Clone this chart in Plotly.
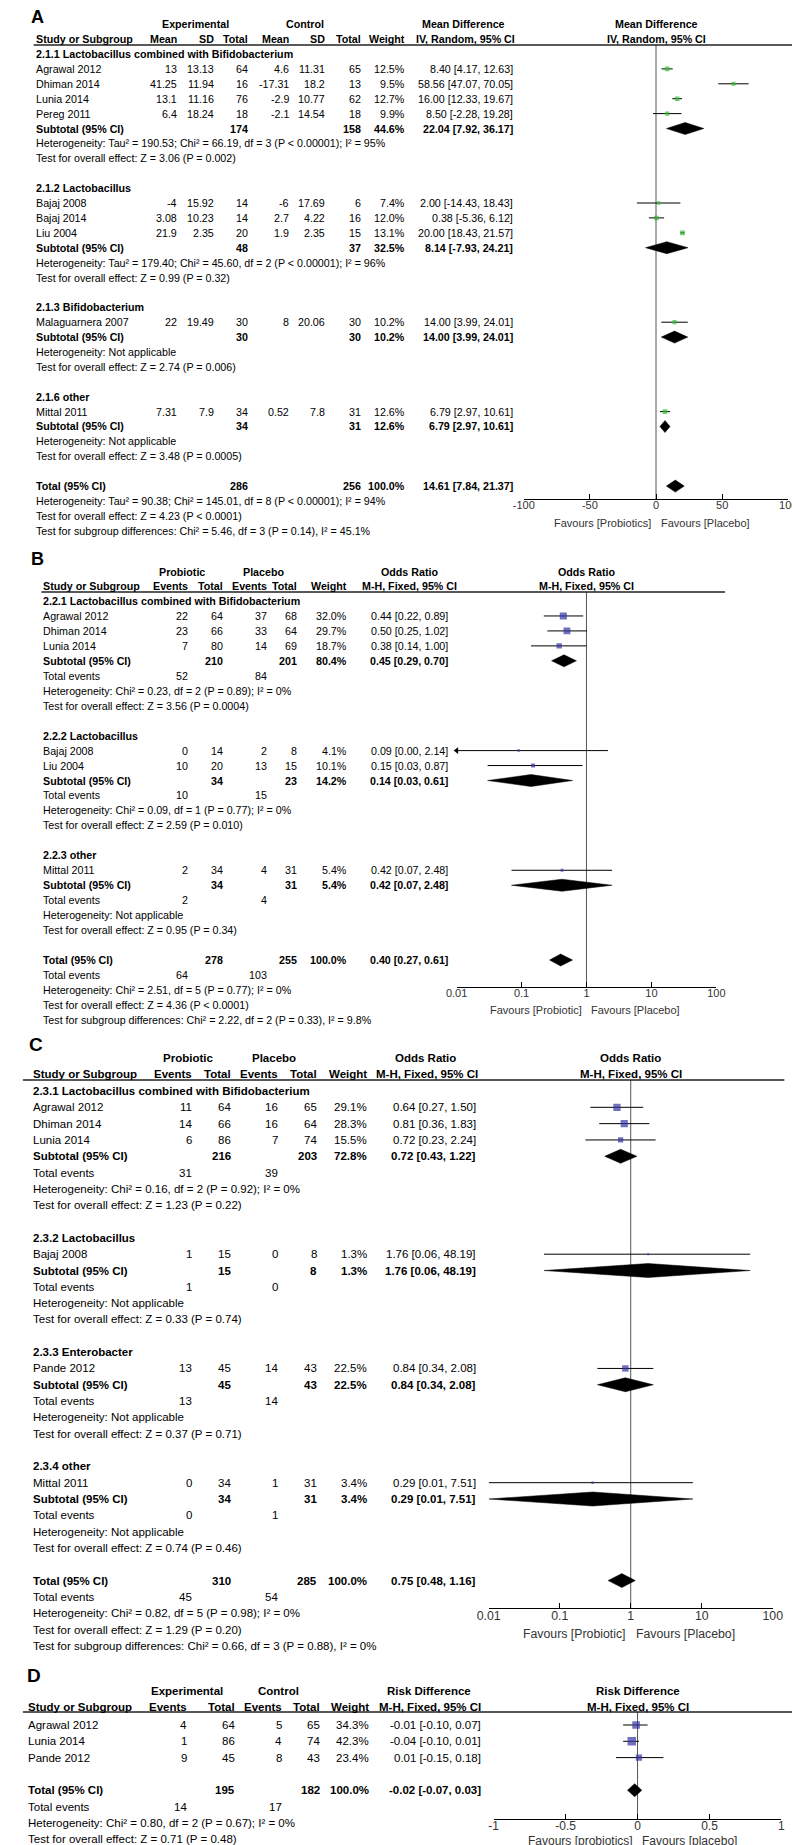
import math
import plotly.graph_objects as go

W, H = 800, 1845
FONT = "Liberation Sans, Arial, Helvetica, sans-serif"
GREEN = "#33bb33"
BLUE = "#3535a5"

# ---------------- A: mean difference (IV, random) ----------------
a_groups = ["2.1.1 Lactobacillus combined with Bifidobacterium", "2.1.2 Lactobacillus",
            "2.1.3 Bifidobacterium", "2.1.6 other"]
a_study = ["Agrawal 2012", "Dhiman 2014", "Lunia 2014", "Pereg 2011", "Bajaj 2008",
           "Bajaj 2014", "Liu 2004", "Malaguarnera 2007", "Mittal 2011"]
a_group_idx = [0, 0, 0, 0, 1, 1, 1, 2, 3]
a_exp_mean = [13, 41.25, 13.1, 6.4, -4, 3.08, 21.9, 22, 7.31]
a_exp_sd = [13.13, 11.94, 11.16, 18.24, 15.92, 10.23, 2.35, 19.49, 7.9]
a_exp_n = [64, 16, 76, 18, 14, 14, 20, 30, 34]
a_ctl_mean = [4.6, -17.31, -2.9, -2.1, -6, 2.7, 1.9, 8, 0.52]
a_ctl_sd = [11.31, 18.2, 10.77, 14.54, 17.69, 4.22, 2.35, 20.06, 7.8]
a_ctl_n = [65, 13, 62, 18, 6, 16, 15, 30, 31]
a_weight = [12.5, 9.5, 12.7, 9.9, 7.4, 12.0, 13.1, 10.2, 12.6]
a_md = [8.40, 58.56, 16.00, 8.50, 2.00, 0.38, 20.00, 14.00, 6.79]
a_lo = [4.17, 47.07, 12.33, -2.28, -14.43, -5.36, 18.43, 3.99, 2.97]
a_hi = [12.63, 70.05, 19.67, 19.28, 18.43, 6.12, 21.57, 24.01, 10.61]
a_sub_exp_n = [174, 48, 30, 34]
a_sub_ctl_n = [158, 37, 30, 31]
a_sub_weight = [44.6, 32.5, 10.2, 12.6]
a_sub_md = [22.04, 8.14, 14.00, 6.79]
a_sub_lo = [7.92, -7.93, 3.99, 2.97]
a_sub_hi = [36.17, 24.21, 24.01, 10.61]
a_sub_het = ["Heterogeneity: Tau² = 190.53; Chi² = 66.19, df = 3 (P < 0.00001); I² = 95%",
             "Heterogeneity: Tau² = 179.40; Chi² = 45.60, df = 2 (P < 0.00001); I² = 96%",
             "Heterogeneity: Not applicable", "Heterogeneity: Not applicable"]
a_sub_z = ["Z = 3.06 (P = 0.002)", "Z = 0.99 (P = 0.32)", "Z = 2.74 (P = 0.006)", "Z = 3.48 (P = 0.0005)"]
a_tot_n = [286, 256]
a_tot_md, a_tot_lo, a_tot_hi = 14.61, 7.84, 21.37
a_tot_notes = ["Heterogeneity: Tau² = 90.38; Chi² = 145.01, df = 8 (P < 0.00001); I² = 94%",
               "Test for overall effect: Z = 4.23 (P < 0.0001)",
               "Test for subgroup differences: Chi² = 5.46, df = 3 (P = 0.14), I² = 45.1%"]
a_ticks = [-100, -50, 0, 50, 100]

# ---------------- B: odds ratio ----------------
b_groups = ["2.2.1 Lactobacillus combined with Bifidobacterium", "2.2.2 Lactobacillus", "2.2.3 other"]
b_study = ["Agrawal 2012", "Dhiman 2014", "Lunia 2014", "Bajaj 2008", "Liu 2004", "Mittal 2011"]
b_group_idx = [0, 0, 0, 1, 1, 2]
b_exp_ev = [22, 23, 7, 0, 10, 2]
b_exp_n = [64, 66, 80, 14, 20, 34]
b_ctl_ev = [37, 33, 14, 2, 13, 4]
b_ctl_n = [68, 64, 69, 8, 15, 31]
b_weight = [32.0, 29.7, 18.7, 4.1, 10.1, 5.4]
b_or = [0.44, 0.50, 0.38, 0.09, 0.15, 0.42]
b_lo = [0.22, 0.25, 0.14, 0.00, 0.03, 0.07]
b_hi = [0.89, 1.02, 1.00, 2.14, 0.87, 2.48]
b_sub_exp_n = [210, 34, 34]
b_sub_ctl_n = [201, 23, 31]
b_sub_weight = [80.4, 14.2, 5.4]
b_sub_or = [0.45, 0.14, 0.42]
b_sub_lo = [0.29, 0.03, 0.07]
b_sub_hi = [0.70, 0.61, 2.48]
b_sub_exp_ev = [52, 10, 2]
b_sub_ctl_ev = [84, 15, 4]
b_sub_het = ["Heterogeneity: Chi² = 0.23, df = 2 (P = 0.89); I² = 0%",
             "Heterogeneity: Chi² = 0.09, df = 1 (P = 0.77); I² = 0%",
             "Heterogeneity: Not applicable"]
b_sub_z = ["Z = 3.56 (P = 0.0004)", "Z = 2.59 (P = 0.010)", "Z = 0.95 (P = 0.34)"]
b_tot_n = [278, 255]
b_tot_ev = [64, 103]
b_tot_or, b_tot_lo, b_tot_hi = 0.40, 0.27, 0.61
b_tot_notes = ["Heterogeneity: Chi² = 2.51, df = 5 (P = 0.77); I² = 0%",
               "Test for overall effect: Z = 4.36 (P < 0.0001)",
               "Test for subgroup differences: Chi² = 2.22, df = 2 (P = 0.33), I² = 9.8%"]

# ---------------- C: odds ratio ----------------
c_groups = ["2.3.1 Lactobacillus combined with Bifidobacterium", "2.3.2 Lactobacillus",
            "2.3.3 Enterobacter", "2.3.4 other"]
c_study = ["Agrawal 2012", "Dhiman 2014", "Lunia 2014", "Bajaj 2008", "Pande 2012", "Mittal 2011"]
c_group_idx = [0, 0, 0, 1, 2, 3]
c_exp_ev = [11, 14, 6, 1, 13, 0]
c_exp_n = [64, 66, 86, 15, 45, 34]
c_ctl_ev = [16, 16, 7, 0, 14, 1]
c_ctl_n = [65, 64, 74, 8, 43, 31]
c_weight = [29.1, 28.3, 15.5, 1.3, 22.5, 3.4]
c_or = [0.64, 0.81, 0.72, 1.76, 0.84, 0.29]
c_lo = [0.27, 0.36, 0.23, 0.06, 0.34, 0.01]
c_hi = [1.50, 1.83, 2.24, 48.19, 2.08, 7.51]
c_sub_exp_n = [216, 15, 45, 34]
c_sub_ctl_n = [203, 8, 43, 31]
c_sub_weight = [72.8, 1.3, 22.5, 3.4]
c_sub_or = [0.72, 1.76, 0.84, 0.29]
c_sub_lo = [0.43, 0.06, 0.34, 0.01]
c_sub_hi = [1.22, 48.19, 2.08, 7.51]
c_sub_exp_ev = [31, 1, 13, 0]
c_sub_ctl_ev = [39, 0, 14, 1]
c_sub_het = ["Heterogeneity: Chi² = 0.16, df = 2 (P = 0.92); I² = 0%",
             "Heterogeneity: Not applicable", "Heterogeneity: Not applicable",
             "Heterogeneity: Not applicable"]
c_sub_z = ["Z = 1.23 (P = 0.22)", "Z = 0.33 (P = 0.74)", "Z = 0.37 (P = 0.71)", "Z = 0.74 (P = 0.46)"]
c_tot_n = [310, 285]
c_tot_ev = [45, 54]
c_tot_or, c_tot_lo, c_tot_hi = 0.75, 0.48, 1.16
c_tot_notes = ["Heterogeneity: Chi² = 0.82, df = 5 (P = 0.98); I² = 0%",
               "Test for overall effect: Z = 1.29 (P = 0.20)",
               "Test for subgroup differences: Chi² = 0.66, df = 3 (P = 0.88), I² = 0%"]
or_ticks = [0.01, 0.1, 1, 10, 100]

# ---------------- D: risk difference ----------------
d_study = ["Agrawal 2012", "Lunia 2014", "Pande 2012"]
d_exp_ev = [4, 1, 9]
d_exp_n = [64, 86, 45]
d_ctl_ev = [5, 4, 8]
d_ctl_n = [65, 74, 43]
d_weight = [34.3, 42.3, 23.4]
d_rd = [-0.01, -0.04, 0.01]
d_lo = [-0.10, -0.10, -0.15]
d_hi = [0.07, 0.01, 0.18]
d_tot_n = [195, 182]
d_tot_ev = [14, 17]
d_tot_rd, d_tot_lo, d_tot_hi = -0.02, -0.07, 0.03
d_tot_notes = ["Heterogeneity: Chi² = 0.80, df = 2 (P = 0.67); I² = 0%",
               "Test for overall effect: Z = 0.71 (P = 0.48)"]
d_ticks = [-1, -0.5, 0, 0.5, 1]


def pct(w):
    return f"{w:.1f}%"


def ci_text(e, l, h):
    return f"{e:.2f} [{l:.2f}, {h:.2f}]"


annotations = []
shapes = []
traces = []
layout_axes = {}


def add_text(x, y, s, size, anchor="left", bold=False, color="black"):
    if bold:
        s = "<b>" + s + "</b>"
    annotations.append(dict(
        x=x / W, y=1 - y / H, xref="paper", yref="paper", text=s, showarrow=False,
        xanchor=anchor, yanchor="middle", borderpad=0,
        font=dict(family=FONT, size=size, color=color)))


def binary_rows(groups, study, gidx, ev1, n1, ev2, n2, wt, est, lo, hi,
                s_n1, s_n2, s_wt, s_est, s_lo, s_hi, s_ev1, s_ev2, s_het, s_z,
                t_n, t_ev, t_est, t_lo, t_hi, t_notes):
    rows = []
    for g, gname in enumerate(groups):
        rows.append((gname, True, [], False, None, None))
        for i in [k for k, gg in enumerate(gidx) if gg == g]:
            vals = [str(ev1[i]), str(n1[i]), str(ev2[i]), str(n2[i]), pct(wt[i])]
            rows.append((study[i], False, vals, False, ci_text(est[i], lo[i], hi[i]),
                         ("sq", est[i], lo[i], hi[i], wt[i])))
        rows.append(("Subtotal (95% CI)", True, [None, str(s_n1[g]), None, str(s_n2[g]), pct(s_wt[g])],
                     True, ci_text(s_est[g], s_lo[g], s_hi[g]), ("dia", s_est[g], s_lo[g], s_hi[g])))
        rows.append(("Total events", False, [str(s_ev1[g]), None, str(s_ev2[g])], False, None, None))
        rows.append((s_het[g], False, [], False, None, None))
        rows.append(("Test for overall effect: " + s_z[g], False, [], False, None, None))
        rows.append(None)
    rows.append(("Total (95% CI)", True, [None, str(t_n[0]), None, str(t_n[1]), "100.0%"],
                 True, ci_text(t_est, t_lo, t_hi), ("dia", t_est, t_lo, t_hi)))
    rows.append(("Total events", False, [str(t_ev[0]), None, str(t_ev[1])], False, None, None))
    for note in t_notes:
        rows.append((note, False, [], False, None, None))
    return rows


def draw_panel(p, rows):
    ax = p["ax"]
    fs = p["fs"]
    row0, step = p["row0"], p["step"]
    d0, d1 = p["xdom"]
    r0, r1 = p["xrange"]
    is_log = p["log"]
    xmin = 10 ** r0 if is_log else r0
    xmax = 10 ** r1 if is_log else r1
    zero_px = d0 + (0 - r0) / (r1 - r0) * (d1 - d0)

    # panel letter and headers
    add_text(p["letter_xy"][0], p["letter_xy"][1], p["letter"], p["letter_fs"], "left", True)
    for x, s, anc in p["head1"]:
        add_text(x, p["h1"], s, fs, anc, True)
    add_text(p["label_x"], p["h2"], "Study or Subgroup", fs, "left", True)
    for x, s in zip(p["cols"], p["head2"]):
        add_text(x, p["h2"], s, fs, "right", True)
    add_text(p["ci_head_x"], p["h2"], p["method"], fs, "center", True)
    add_text(zero_px, p["h2"], p["method"], fs, "center", True)
    add_text(zero_px, p["h1"], p["measure"], fs, "center", True)
    shapes.append(dict(type="line", xref="paper", yref="paper", x0=p["line_x"][0] / W, x1=p["line_x"][1] / W,
                       y0=1 - p["top"] / H, y1=1 - p["top"] / H, line=dict(color="#222222", width=1.5)))

    seg_x, seg_y, sq_x, sq_y, sq_s = [], [], [], [], []
    dia_x, dia_y, arr_x, arr_y = [], [], [], []
    hh = p["dia_h"] / step
    for r, row in enumerate(rows):
        if row is None:
            continue
        label, lbold, vals, vbold, ci, mark = row
        y = row0 + step * r
        add_text(p["label_x"], y, label, fs, "left", lbold)
        for x, v in zip(p["cols"], vals):
            if v is not None:
                add_text(x, y, v, fs, "right", vbold)
        if ci:
            add_text(p["ci_x"], y, ci, fs, "right", vbold)
        if mark is None:
            continue
        if mark[0] == "sq":
            _, e, lo, hi, w = mark
            lo_c = max(lo, xmin)
            hi_c = min(hi, xmax)
            seg_x += [lo_c, hi_c, None]
            seg_y += [r, r, None]
            if lo < xmin:
                arr_x.append(xmin)
                arr_y.append(r)
            sq_x.append(e)
            sq_y.append(r)
            sq_s.append(max(2.0, p["k"] * math.sqrt(w)))
        else:
            _, e, lo, hi = mark
            dia_x += [lo, e, hi, e, lo, None]
            dia_y += [r, r - hh, r, r + hh, r, None]

    xa, ya = "x" + ax, "y" + ax
    r_bot = (p["axis"] - row0) / step
    r_top = (p["top"] - row0) / step
    zx = 1 if is_log else 0
    traces.append(go.Scatter(x=[zx, zx], y=[r_top, r_bot], mode="lines", xaxis=xa, yaxis=ya,
                             line=dict(color="#555555", width=1), hoverinfo="skip", showlegend=False))
    traces.append(go.Scatter(x=seg_x, y=seg_y, mode="lines", xaxis=xa, yaxis=ya,
                             line=dict(color="black", width=1), hoverinfo="skip", showlegend=False))
    traces.append(go.Scatter(x=sq_x, y=sq_y, mode="markers", xaxis=xa, yaxis=ya,
                             marker=dict(symbol="square", size=sq_s, color=p["color"], line=dict(width=0)),
                             showlegend=False))
    if arr_x:
        traces.append(go.Scatter(x=arr_x, y=arr_y, mode="markers", xaxis=xa, yaxis=ya, cliponaxis=False,
                                 marker=dict(symbol="triangle-left", size=6, color="black"),
                                 showlegend=False, hoverinfo="skip"))
    traces.append(go.Scatter(x=dia_x, y=dia_y, mode="lines", fill="toself", fillcolor="black", xaxis=xa, yaxis=ya,
                             line=dict(color="black", width=0.5), hoverinfo="skip", showlegend=False))

    key = ax if ax else ""
    layout_axes["xaxis" + key] = dict(
        domain=[d0 / W, d1 / W], range=[r0, r1], type="log" if is_log else "linear", anchor=ya,
        showline=True, linecolor="black", linewidth=1, ticks="inside", ticklen=5, tickcolor="black",
        tickvals=p["ticks"], ticktext=[str(t) for t in p["ticks"]], showgrid=False, zeroline=False,
        ticklabelstandoff=-4,
        tickfont=dict(family=FONT, size=p["tick_fs"], color="#333333"), fixedrange=True)
    layout_axes["yaxis" + key] = dict(
        domain=[1 - p["axis"] / H, 1 - p["top"] / H], range=[r_bot, r_top], visible=False,
        anchor=xa, fixedrange=True)
    add_text(zero_px - 4, p["fav_y"], p["fav"][0], p["tick_fs"], "right", False, "#333333")
    add_text(zero_px + 4, p["fav_y"], p["fav"][1], p["tick_fs"], "left", False, "#333333")


# ---- panel A rows ----
a_rows = []
for g, gname in enumerate(a_groups):
    a_rows.append((gname, True, [], False, None, None))
    for i in [k for k, gg in enumerate(a_group_idx) if gg == g]:
        vals = [str(a_exp_mean[i]), str(a_exp_sd[i]), str(a_exp_n[i]), str(a_ctl_mean[i]),
                str(a_ctl_sd[i]), str(a_ctl_n[i]), pct(a_weight[i])]
        a_rows.append((a_study[i], False, vals, False, ci_text(a_md[i], a_lo[i], a_hi[i]),
                       ("sq", a_md[i], a_lo[i], a_hi[i], a_weight[i])))
    a_rows.append(("Subtotal (95% CI)", True,
                   [None, None, str(a_sub_exp_n[g]), None, None, str(a_sub_ctl_n[g]), pct(a_sub_weight[g])],
                   True, ci_text(a_sub_md[g], a_sub_lo[g], a_sub_hi[g]),
                   ("dia", a_sub_md[g], a_sub_lo[g], a_sub_hi[g])))
    a_rows.append((a_sub_het[g], False, [], False, None, None))
    a_rows.append(("Test for overall effect: " + a_sub_z[g], False, [], False, None, None))
    a_rows.append(None)
a_rows.append(("Total (95% CI)", True, [None, None, str(a_tot_n[0]), None, None, str(a_tot_n[1]), "100.0%"],
               True, ci_text(a_tot_md, a_tot_lo, a_tot_hi), ("dia", a_tot_md, a_tot_lo, a_tot_hi)))
for note in a_tot_notes:
    a_rows.append((note, False, [], False, None, None))

b_rows = binary_rows(b_groups, b_study, b_group_idx, b_exp_ev, b_exp_n, b_ctl_ev, b_ctl_n, b_weight,
                     b_or, b_lo, b_hi, b_sub_exp_n, b_sub_ctl_n, b_sub_weight, b_sub_or, b_sub_lo,
                     b_sub_hi, b_sub_exp_ev, b_sub_ctl_ev, b_sub_het, b_sub_z,
                     b_tot_n, b_tot_ev, b_tot_or, b_tot_lo, b_tot_hi, b_tot_notes)
c_rows = binary_rows(c_groups, c_study, c_group_idx, c_exp_ev, c_exp_n, c_ctl_ev, c_ctl_n, c_weight,
                     c_or, c_lo, c_hi, c_sub_exp_n, c_sub_ctl_n, c_sub_weight, c_sub_or, c_sub_lo,
                     c_sub_hi, c_sub_exp_ev, c_sub_ctl_ev, c_sub_het, c_sub_z,
                     c_tot_n, c_tot_ev, c_tot_or, c_tot_lo, c_tot_hi, c_tot_notes)

d_rows = []
for i, name in enumerate(d_study):
    d_rows.append((name, False, [str(d_exp_ev[i]), str(d_exp_n[i]), str(d_ctl_ev[i]), str(d_ctl_n[i]),
                                 pct(d_weight[i])], False, ci_text(d_rd[i], d_lo[i], d_hi[i]),
                   ("sq", d_rd[i], d_lo[i], d_hi[i], d_weight[i])))
d_rows.append(None)
d_rows.append(("Total (95% CI)", True, [None, str(d_tot_n[0]), None, str(d_tot_n[1]), "100.0%"], True,
               ci_text(d_tot_rd, d_tot_lo, d_tot_hi), ("dia", d_tot_rd, d_tot_lo, d_tot_hi)))
d_rows.append(("Total events", False, [str(d_tot_ev[0]), None, str(d_tot_ev[1])], False, None, None))
for note in d_tot_notes:
    d_rows.append((note, False, [], False, None, None))

panel_a = dict(ax="", fs=10.7, tick_fs=11, letter="A", letter_xy=(10, 9), letter_fs=18,
               h1=16, h2=31, top=37, axis=491, row0=46, step=14.9, line_x=(14, 800),
               label_x=15, cols=[162, 200, 235, 278, 315, 352, 397],
               head2=["Mean", "SD", "Total", "Mean", "SD", "Total", "Weight"],
               head1=[(180, "Experimental", "center"), (293, "Control", "center"),
                      (456, "Mean Difference", "center")],
               ci_x=508, ci_head_x=458, method="IV, Random, 95% CI", measure="Mean Difference",
               xdom=(518, 790), xrange=(-100, 100), log=False, ticks=a_ticks,
               color=GREEN, k=1.3, dia_h=6, fav_y=515,
               fav=("Favours [Probiotics]", "Favours [Placebo]"))
panel_b = dict(ax="2", fs=10.7, tick_fs=11, letter="B", letter_xy=(10, 551), letter_fs=18,
               h1=564, h2=578, top=584, axis=979, row0=593, step=14.96, line_x=(22, 725),
               label_x=23, cols=[174, 210, 255, 286, 337],
               head2=["Events", "Total", "Events", "Total", "Weight"],
               head1=[(167, "Probiotic", "center"), (250, "Placebo", "center"),
                      (401, "Odds Ratio", "center")],
               ci_x=441, ci_head_x=401, method="M-H, Fixed, 95% CI", measure="Odds Ratio",
               xdom=(449, 716), xrange=(-2, 2), log=True, ticks=or_ticks,
               color=BLUE, k=1.25, dia_h=6, fav_y=1002,
               fav=("Favours [Probiotic]", "Favours [Placebo]"))
panel_c = dict(ax="3", fs=11.5, tick_fs=12.3, letter="C", letter_xy=(8, 1036), letter_fs=19,
               h1=1050, h2=1066, top=1072, axis=1600, row0=1083, step=16.32, line_x=(3, 786),
               label_x=12, cols=[178, 218, 266, 306, 358],
               head2=["Events", "Total", "Events", "Total", "Weight"],
               head1=[(173, "Probiotic", "center"), (261, "Placebo", "center"),
                      (417, "Odds Ratio", "center")],
               ci_x=470, ci_head_x=419, method="M-H, Fixed, 95% CI", measure="Odds Ratio",
               xdom=(482, 774), xrange=(-2, 2), log=True, ticks=or_ticks,
               color=BLUE, k=1.35, dia_h=7, fav_y=1626,
               fav=("Favours [Probiotic]", "Favours [Placebo]"))
panel_d = dict(ax="4", fs=11.5, tick_fs=12, letter="D", letter_xy=(6, 1667), letter_fs=19,
               h1=1683, h2=1699, top=1704, axis=1811, row0=1717, step=16.3, line_x=(3, 800),
               label_x=7, cols=[173, 222, 270, 310, 360],
               head2=["Events", "Total", "Events", "Total", "Weight"],
               head1=[(172, "Experimental", "center"), (266, "Control", "center"),
                      (421, "Risk Difference", "center")],
               ci_x=475, ci_head_x=422, method="M-H, Fixed, 95% CI", measure="Risk Difference",
               xdom=(487, 783), xrange=(-1, 1), log=False, ticks=d_ticks,
               color=BLUE, k=1.3, dia_h=6.5, fav_y=1833,
               fav=("Favours [probiotics]", "Favours [placebo]"))

draw_panel(panel_a, a_rows)
draw_panel(panel_b, b_rows)
draw_panel(panel_c, c_rows)
draw_panel(panel_d, d_rows)

fig = go.Figure(data=traces)
fig.update_layout(
    width=W, height=H, margin=dict(l=0, r=0, t=0, b=0),
    paper_bgcolor="white", plot_bgcolor="white", showlegend=False,
    annotations=annotations, shapes=shapes, **layout_axes)
fig.write_html("out.html")
